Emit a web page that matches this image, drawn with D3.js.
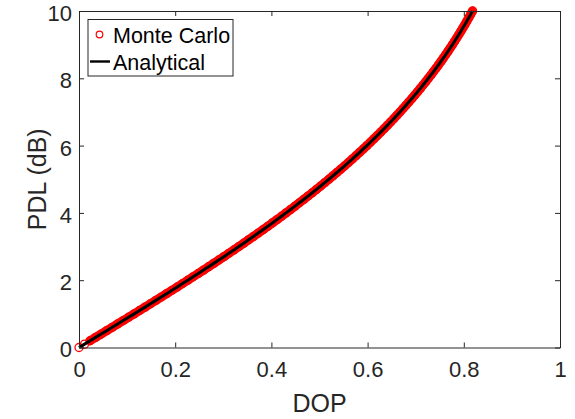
<!DOCTYPE html>
<html>
<head>
<meta charset="utf-8">
<script src="https://cdn.jsdelivr.net/npm/d3@7"></script>
<style>
  html, body { margin: 0; padding: 0; background: #fff; }
  svg { display: block; }
  text { font-family: "Liberation Sans", Arial, Helvetica, sans-serif; fill: #262626; }
</style>
</head>
<body>
<svg id="chart" width="575" height="419"></svg>
<script>
// PDL values (dB) of the Monte Carlo samples / analytical curve
const pdlValues = [
  0.0,0.1,0.2,0.3,0.4,0.5,0.6,0.7,0.8,0.9,
  1.0,1.1,1.2,1.3,1.4,1.5,1.6,1.7,1.8,1.9,
  2.0,2.1,2.2,2.3,2.4,2.5,2.6,2.7,2.8,2.9,
  3.0,3.1,3.2,3.3,3.4,3.5,3.6,3.7,3.8,3.9,
  4.0,4.1,4.2,4.3,4.4,4.5,4.6,4.7,4.8,4.9,
  5.0,5.1,5.2,5.3,5.4,5.5,5.6,5.7,5.8,5.9,
  6.0,6.1,6.2,6.3,6.4,6.5,6.6,6.7,6.8,6.9,
  7.0,7.1,7.2,7.3,7.4,7.5,7.6,7.7,7.8,7.9,
  8.0,8.1,8.2,8.3,8.4,8.5,8.6,8.7,8.8,8.9,
  9.0,9.1,9.2,9.3,9.4,9.5,9.6,9.7,9.8,9.9,
  10.0
];
// Corresponding DOP values
const dopValues = [
  0.0000,0.0115,0.0230,0.0345,0.0460,0.0575,0.0690,0.0804,0.0918,0.1032,
  0.1146,0.1260,0.1373,0.1486,0.1598,0.1710,0.1822,0.1933,0.2043,0.2153,
  0.2263,0.2372,0.2480,0.2588,0.2695,0.2801,0.2907,0.3012,0.3116,0.3220,
  0.3323,0.3425,0.3526,0.3626,0.3726,0.3825,0.3923,0.4020,0.4116,0.4211,
  0.4305,0.4398,0.4491,0.4582,0.4673,0.4762,0.4851,0.4938,0.5025,0.5110,
  0.5195,0.5278,0.5361,0.5443,0.5523,0.5603,0.5681,0.5759,0.5835,0.5910,
  0.5985,0.6058,0.6131,0.6202,0.6272,0.6342,0.6410,0.6477,0.6544,0.6609,
  0.6673,0.6737,0.6799,0.6860,0.6921,0.6980,0.7039,0.7097,0.7153,0.7209,
  0.7264,0.7318,0.7371,0.7423,0.7474,0.7525,0.7574,0.7623,0.7671,0.7717,
  0.7764,0.7809,0.7853,0.7897,0.7940,0.7982,0.8024,0.8064,0.8104,0.8143,
  0.8182
];
const xTicks = [0, 0.2, 0.4, 0.6, 0.8, 1];
const yTicks = [0, 2, 4, 6, 8, 10];
const seriesNames = ["Monte Carlo", "Analytical"];
const xLabel = "DOP";
const yLabel = "PDL (dB)";

const W = 575, H = 419;
const margin = { left: 79, right: 15, top: 11, bottom: 71.5 };
const svg = d3.select("#chart");
const x = d3.scaleLinear().domain([0, 1]).range([margin.left, W - margin.right]);
const y = d3.scaleLinear().domain([0, 10]).range([H - margin.bottom, margin.top]);

const points = dopValues.map((d, i) => ({ dop: d, pdl: pdlValues[i] }));

const axisColor = "#262626";
const fmt = d => String(d);

// Monte Carlo samples: dense open red circles (drawn with their merged envelope)
const plot = svg.append("g");
const lineGen = d3.line().x(d => x(d.dop)).y(d => y(d.pdl));
plot.append("path").datum(points.slice(2))
  .attr("d", lineGen)
  .attr("fill", "none").attr("stroke", "#ff0000").attr("stroke-width", 9)
  .attr("stroke-linecap", "round").attr("stroke-linejoin", "round");
plot.selectAll("circle.mc").data(points).enter().append("circle")
  .attr("class", "mc")
  .attr("cx", d => x(d.dop)).attr("cy", d => y(d.pdl))
  .attr("r", 4)
  .attr("fill", "none").attr("stroke", "#ff0000").attr("stroke-width", 1.3);

// Analytical line
plot.append("path").datum(points)
  .attr("d", lineGen)
  .attr("fill", "none").attr("stroke", "#000").attr("stroke-width", 3);

// Axes (box with inward ticks)
const tickLen = 5;
const xAxisB = svg.append("g").attr("transform", `translate(0,${y(0)})`)
  .call(d3.axisBottom(x).tickValues(xTicks).tickFormat(fmt).tickSizeInner(-tickLen).tickSizeOuter(0).tickPadding(14));
const xAxisT = svg.append("g").attr("transform", `translate(0,${y(10)})`)
  .call(d3.axisTop(x).tickValues(xTicks).tickFormat("").tickSizeInner(-tickLen).tickSizeOuter(0));
const yAxisL = svg.append("g").attr("transform", `translate(${x(0)},0)`)
  .call(d3.axisLeft(y).tickValues(yTicks).tickFormat(fmt).tickSizeInner(-tickLen).tickSizeOuter(0).tickPadding(7));
const yAxisR = svg.append("g").attr("transform", `translate(${x(1)},0)`)
  .call(d3.axisRight(y).tickValues(yTicks).tickFormat("").tickSizeInner(-tickLen).tickSizeOuter(0));

[xAxisB, xAxisT, yAxisL, yAxisR].forEach(g => {
  g.select(".domain").attr("stroke", axisColor).attr("stroke-width", 1);
  g.selectAll(".tick line").attr("stroke", axisColor).attr("stroke-width", 1);
  g.selectAll(".tick text").attr("fill", axisColor)
    .style("font-family", '"Liberation Sans", Arial, sans-serif').style("font-size", "22px");
});
yAxisL.selectAll(".tick text").attr("dy", "0.43em");

// Axis labels
svg.append("text").attr("x", x(0.5)).attr("y", 412)
  .attr("text-anchor", "middle").style("font-size", "25px").text(xLabel);
svg.append("text").attr("transform", `translate(46,${y(5)}) rotate(-90)`)
  .attr("text-anchor", "middle").style("font-size", "25px").text(yLabel);

// Legend
const lg = svg.append("g");
lg.append("rect").attr("x", 88).attr("y", 19.5).attr("width", 145).attr("height", 56.5)
  .attr("fill", "#fff").attr("stroke", axisColor).attr("stroke-width", 1);
lg.append("circle").attr("cx", 99.5).attr("cy", 34.5).attr("r", 3.3)
  .attr("fill", "none").attr("stroke", "#ff0000").attr("stroke-width", 1.2);
lg.append("line").attr("x1", 90).attr("x2", 110).attr("y1", 61.5).attr("y2", 61.5)
  .attr("stroke", "#000").attr("stroke-width", 2.4);
lg.append("text").attr("x", 113).attr("y", 42.5).style("font-size", "21.5px").style("fill", "#000").text(seriesNames[0]);
lg.append("text").attr("x", 113).attr("y", 69.5).style("font-size", "21.5px").style("fill", "#000").text(seriesNames[1]);
</script>
</body>
</html>
